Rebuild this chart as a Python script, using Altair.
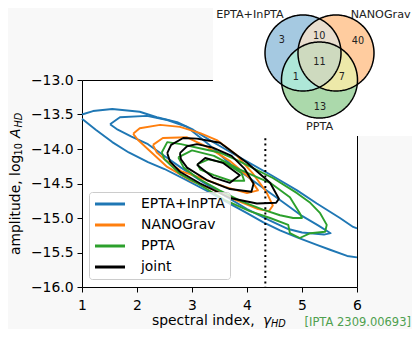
import numpy as np
import pandas as pd
import altair as alt

# ---------------- data ----------------
set_names = ["EPTA+InPTA", "NANOGrav", "PPTA", "joint"]
set_colors = ["#1f77b4", "#ff7f0e", "#2ca02c", "#000000"]

gamma_smbhb = 13 / 3
x_ticks = [1, 2, 3, 4, 5, 6]
y_ticks = [-16.0, -15.5, -15.0, -14.5, -14.0, -13.5, -13.0]

# EPTA+InPTA (outer contour is cut by the plot edges -> two open pieces)
epta_outer_top_g = [1.0, 1.2, 1.55, 2.05, 2.36, 2.73, 3.02, 3.3, 3.6, 3.93, 4.42, 4.91, 5.27, 5.69, 5.93, 6.0]
epta_outer_top_a = [-13.50, -13.45, -13.42, -13.46, -13.54, -13.61, -13.72, -13.86, -14.0, -14.15, -14.37, -14.6, -14.79, -15.0, -15.13, -15.15]
epta_outer_bot_g = [1.0, 1.25, 1.55, 1.85, 2.2, 2.5, 2.9, 3.3, 3.7, 4.0, 4.29, 4.6, 4.91, 5.27, 5.51, 5.82, 6.0]
epta_outer_bot_a = [-13.56, -13.72, -13.90, -14.05, -14.19, -14.29, -14.45, -14.62, -14.80, -14.93, -15.06, -15.18, -15.28, -15.39, -15.46, -15.55, -15.57]
epta_inner_g = [1.51, 1.69, 2.18, 2.55, 2.91, 3.3, 3.7, 4.18, 4.6, 5.0, 5.3, 5.52, 5.4, 5.0, 4.75, 4.4, 4.0, 3.6, 3.2, 2.8, 2.5, 2.2, 1.9, 1.65, 1.51]
epta_inner_a = [-13.64, -13.54, -13.52, -13.58, -13.68, -13.93, -14.22, -14.5, -14.74, -14.97, -15.11, -15.22, -15.24, -15.21, -15.16, -15.03, -14.87, -14.68, -14.48, -14.27, -14.1, -13.93, -13.82, -13.72, -13.64]

# NANOGrav
nano_outer_g = [1.93, 2.05, 2.42, 2.78, 3.15, 3.45, 3.8, 4.1, 4.35, 4.47, 4.4, 4.2, 3.8, 3.38, 2.96, 2.55, 2.18, 2.02, 1.93]
nano_outer_a = [-13.78, -13.70, -13.65, -13.68, -13.77, -13.87, -14.08, -14.35, -14.62, -14.82, -14.90, -14.87, -14.74, -14.59, -14.45, -14.26, -13.99, -13.87, -13.78]
nano_inner_g = [2.29, 2.47, 2.91, 3.3, 3.7, 4.05, 4.2, 4.0, 3.6, 3.2, 2.8, 2.5, 2.36, 2.29]
nano_inner_a = [-13.94, -13.84, -13.83, -13.98, -14.18, -14.42, -14.6, -14.64, -14.55, -14.43, -14.32, -14.15, -14.05, -13.94]

# PPTA
ppta_outer_g = [2.45, 2.55, 2.8, 3.2, 3.5, 3.82, 4.47, 4.91, 5.15, 5.33, 5.45, 5.42, 5.15, 4.96, 4.78, 4.75, 4.42, 4.05, 3.6, 3.1, 2.78, 2.5, 2.45]
ppta_outer_a = [-14.05, -13.90, -13.93, -14.0, -14.05, -14.16, -14.42, -14.64, -14.78, -14.93, -15.10, -15.20, -15.22, -15.29, -15.22, -15.10, -15.0, -14.9, -14.74, -14.5, -14.36, -14.15, -14.05]
ppta_inner_g = [2.75, 3.0, 3.4, 3.87, 4.42, 4.78, 4.96, 5.0, 4.84, 4.6, 4.29, 3.9, 3.5, 3.1, 2.85, 2.75]
ppta_inner_a = [-14.12, -14.02, -14.1, -14.30, -14.49, -14.70, -14.93, -15.0, -15.0, -14.96, -14.88, -14.76, -14.6, -14.42, -14.27, -14.12]
ppta_core_g = [3.1, 3.3, 3.6, 3.9, 3.95, 3.7, 3.4, 3.15, 3.1]
ppta_core_a = [-14.22, -14.15, -14.2, -14.35, -14.46, -14.46, -14.38, -14.3, -14.22]

# joint
joint_outer_g = [2.55, 2.62, 2.84, 3.09, 3.51, 4.0, 4.42, 4.58, 4.53, 4.18, 3.69, 3.15, 2.78, 2.6, 2.55]
joint_outer_a = [-14.06, -13.94, -13.84, -13.85, -13.91, -14.2, -14.49, -14.72, -14.78, -14.79, -14.71, -14.50, -14.33, -14.18, -14.06]
joint_mid_g = [2.78, 2.91, 3.09, 3.38, 3.72, 3.95, 4.12, 4.08, 3.69, 3.27, 2.91, 2.8, 2.78]
joint_mid_a = [-14.06, -13.96, -13.93, -13.98, -14.1, -14.28, -14.5, -14.62, -14.58, -14.45, -14.27, -14.15, -14.06]
joint_core_g = [3.09, 3.24, 3.56, 3.87, 3.69, 3.38, 3.09]
joint_core_a = [-14.23, -14.13, -14.2, -14.38, -14.49, -14.41, -14.23]

# Venn diagram values
venn_sets = ["EPTA+InPTA", "NANOGrav", "PPTA"]
venn_regions = [[0], [1], [2], [0, 1], [0, 2], [1, 2], [0, 1, 2]]
venn_counts = [3, 40, 13, 10, 1, 7, 11]

citation = "[IPTA 2309.00693]"

# ---------------- layout / style ----------------
venn_centers = [(-0.434, 0.237), (0.434, 0.237), (0.0, -0.474)]  # circle-radius units
venn_count_pos = [(-0.99, 0.58), (1.01, 0.55), (0.01, -1.18), (-0.01, 0.68),
                  (-0.62, -0.39), (0.59, -0.39), (0.0, 0.0)]
venn_label_pos = [(-1.83, 1.24), (1.61, 1.24), (0.0, -1.71)]
venn_fills = ["#a5c9e1", "#ffcc9f", "#abd9ab", "#e9decf", "#aee7d8", "#ede9a9", "#cedabf"]
FONT = "DejaVu Sans"

# ---------------- build tables ----------------
contours = [
    ("EPTA+InPTA", epta_outer_top_g, epta_outer_top_a),
    ("EPTA+InPTA", epta_outer_bot_g, epta_outer_bot_a),
    ("EPTA+InPTA", epta_inner_g, epta_inner_a),
    ("NANOGrav", nano_outer_g, nano_outer_a),
    ("NANOGrav", nano_inner_g, nano_inner_a),
    ("PPTA", ppta_outer_g, ppta_outer_a),
    ("PPTA", ppta_inner_g, ppta_inner_a),
    ("PPTA", ppta_core_g, ppta_core_a),
    ("joint", joint_outer_g, joint_outer_a),
    ("joint", joint_mid_g, joint_mid_a),
    ("joint", joint_core_g, joint_core_a),
]
rows = []
for seg, (name, gs, As) in enumerate(contours):
    for k, (g, a) in enumerate(zip(gs, As)):
        rows.append({"set": name, "seg": seg, "k": k, "gamma": g, "logA": a})
contour_df = pd.DataFrame(rows)

x_enc = alt.X("gamma:Q", scale=alt.Scale(domain=[1, 6], nice=False, zero=False),
              axis=alt.Axis(values=x_ticks, format="d", title=None, grid=False, domain=False,
                            tickSize=5, tickColor="black", tickWidth=1, labelFontSize=13.9,
                            labelColor="black", labelFont=FONT, labelPadding=6, labelFlush=False))
y_enc = alt.Y("logA:Q", scale=alt.Scale(domain=[-16, -13], nice=False, zero=False),
              axis=alt.Axis(values=y_ticks, format=".1f", title=None, grid=False, domain=False,
                            tickSize=5, tickColor="black", tickWidth=1, labelFontSize=13.9,
                            labelColor="black", labelFont=FONT, labelPadding=4, labelFlush=False))
color_enc = alt.Color(
    "set:N",
    scale=alt.Scale(domain=set_names, range=set_colors),
    legend=alt.Legend(orient="none", legendX=7, legendY=112, title=None, direction="vertical",
                      symbolType="M-2.5,0H2.5", symbolSize=144, symbolStrokeWidth=3,
                      symbolOffset=9, labelOffset=23.5, padding=4.5, rowPadding=6,
                      fillColor="rgba(255,255,255,0.8)", strokeColor="#cccccc", cornerRadius=3,
                      labelFontSize=13.9, labelColor="black", labelFont=FONT, labelLimit=200),
)

contour_layers = [
    alt.Chart(contour_df).transform_filter(alt.datum.set == s)
    .mark_line(strokeWidth=1.9, strokeJoin="round")
    .encode(x=x_enc, y=y_enc, color=color_enc, detail="seg:N", order="k:Q")
    for s in set_names
]

rule = alt.Chart(pd.DataFrame({"gamma": [gamma_smbhb]})).mark_rule(
    color="black", strokeWidth=2, strokeDash=[2, 3.3]).encode(x=x_enc)


def txt(text, x, y, size=13.9, italic=False, angle=0, align="left",
        color="black", baseline="alphabetic"):
    return alt.Chart(pd.DataFrame({"t": [text]})).mark_text(
        align=align, baseline=baseline, fontSize=size, angle=angle, color=color, font=FONT,
        fontStyle="italic" if italic else "normal",
    ).encode(x=alt.value(x), y=alt.value(y), text="t:N")


titles = [
    txt("spectral index,", 70, 245),
    txt("γ", 181, 245, italic=True),
    txt("HD", 189, 246.5, size=9.7, italic=True),
    txt("amplitude, log", -62.5, 175, angle=270),
    txt("10", -59.8, 75.5, size=9.7, angle=270),
    txt("A", -62.5, 58, italic=True, angle=270),
    txt("HD", -59.8, 47.5, size=9.7, italic=True, angle=270),
    txt(citation, 329, 246, size=11.5, align="right", color="#4fa04f"),
]

main = alt.layer(*contour_layers, rule, *titles)

# ---------------- Venn inset ----------------
vx_scale = alt.Scale(domain=[-1, 1], range=[199.5, 275.5], nice=False, zero=False)
vy_scale = alt.Scale(domain=[-1, 1], range=[20, -56], nice=False, zero=False)


def region_area(members):
    xs = np.linspace(-1.6, 1.6, 1601)
    lo = np.full_like(xs, -np.inf)
    hi = np.full_like(xs, np.inf)
    for m in members:
        cx, cy = venn_centers[m]
        d = 1 - (xs - cx) ** 2
        h = np.sqrt(np.clip(d, 0, None))
        lo = np.maximum(lo, np.where(d >= 0, cy - h, np.inf))
        hi = np.minimum(hi, np.where(d >= 0, cy + h, -np.inf))
    ok = hi > lo
    return pd.DataFrame({"vx": xs[ok], "vy": lo[ok], "vy2": hi[ok]})


box = alt.Chart(pd.DataFrame({"a": [0]})).mark_rect(color="white").encode(
    x=alt.value(131), x2=alt.value(345), y=alt.value(-80), y2=alt.value(56))

area_layers = []
for members, fill in zip(venn_regions, venn_fills):
    area_layers.append(
        alt.Chart(region_area(members)).mark_area(color=fill, opacity=1, interpolate="linear")
        .encode(x=alt.X("vx:Q", scale=vx_scale, axis=None),
                y=alt.Y("vy:Q", scale=vy_scale, axis=None), y2="vy2:Q")
    )

t = np.linspace(0, 2 * np.pi, 241)
circ_rows = []
for ci, (cx, cy) in enumerate(venn_centers):
    for k, tt in enumerate(t):
        circ_rows.append({"c": ci, "k": k, "vx": cx + np.cos(tt), "vy": cy + np.sin(tt)})
outline = alt.Chart(pd.DataFrame(circ_rows)).mark_line(color="black", strokeWidth=1.5).encode(
    x=alt.X("vx:Q", scale=vx_scale, axis=None), y=alt.Y("vy:Q", scale=vy_scale, axis=None),
    detail="c:N", order="k:Q")

count_df = pd.DataFrame({"vx": [p[0] for p in venn_count_pos], "vy": [p[1] for p in venn_count_pos],
                         "n": [str(c) for c in venn_counts]})
counts = alt.Chart(count_df).mark_text(fontSize=9.7, font=FONT, color="#222222", baseline="middle").encode(
    x=alt.X("vx:Q", scale=vx_scale, axis=None), y=alt.Y("vy:Q", scale=vy_scale, axis=None), text="n:N")

lab_df = pd.DataFrame({"vx": [p[0] for p in venn_label_pos], "vy": [p[1] for p in venn_label_pos],
                       "name": venn_sets})
labels = alt.Chart(lab_df).mark_text(fontSize=11.2, font=FONT, color="#222222", baseline="middle").encode(
    x=alt.X("vx:Q", scale=vx_scale, axis=None), y=alt.Y("vy:Q", scale=vy_scale, axis=None), text="name:N")

venn = alt.layer(box, *area_layers, outline, counts, labels)

chart = alt.layer(main, venn).resolve_scale(x="independent", y="independent").properties(
    width=275, height=207,
    autosize=alt.AutoSizeParams(type="none"),
    padding={"left": 74, "top": 72, "right": 55, "bottom": 42},
    background="#f8f8f8",
).configure(font=FONT).configure_view(fill="white", stroke="black", strokeWidth=1)

chart.save("out.html", embed_options={"renderer": "svg", "actions": False})
